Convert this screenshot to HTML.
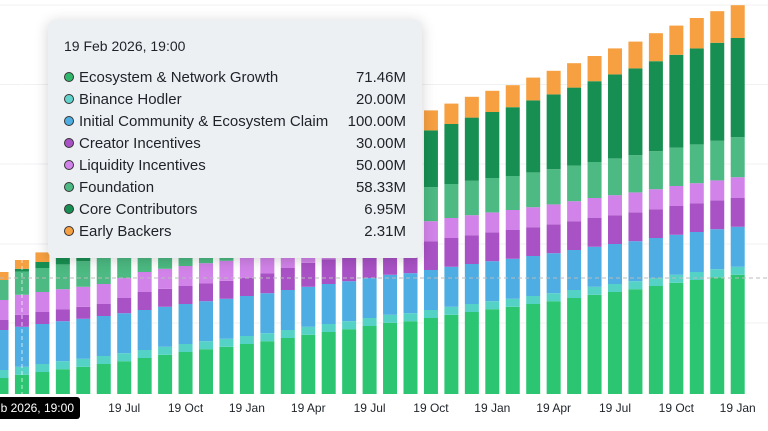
<!DOCTYPE html>
<html><head><meta charset="utf-8"><style>
html,body{margin:0;padding:0;background:#fff;width:768px;height:431px;overflow:hidden;font-family:"Liberation Sans",sans-serif}
#tip{position:absolute;left:48px;top:20px;width:374px;height:238px;background:#edf0f3;border-radius:7px;box-shadow:0 2px 14px rgba(0,0,0,0.18);color:#1e2329}
#tip .t{position:absolute;left:16px;top:18px;font-size:14px}
.row{position:absolute;left:16px;width:342px;height:20px;font-size:15px;line-height:20px}
.row .d{display:inline-block;width:8px;height:8px;border-radius:50%;border:1.5px solid #333;margin-right:5px;vertical-align:0px}
.row .v{position:absolute;right:0;top:0}
</style></head><body>
<svg id="chart" width="768" height="431" style="position:absolute;left:0;top:0"></svg>
<div id="tip">
<div class="t">19 Feb 2026, 19:00</div>
</div>
<script>
const categories=["Jan26","Feb26","Mar26","Apr26","May26","Jun26","Jul26","Aug26","Sep26","Oct26","Nov26","Dec26","Jan27","Feb27","Mar27","Apr27","May27","Jun27","Jul27","Aug27","Sep27","Oct27","Nov27","Dec27","Jan28","Feb28","Mar28","Apr28","May28","Jun28","Jul28","Aug28","Sep28","Oct28","Nov28","Dec28","Jan29"];
const ecosystem=[40,48,55,62,68,75,82,90,98,105,112,118,125,132,140,148,155,162,170,178,182,190,198,205,212,218,225,232,240,248,255,262,270,278,285,292,298];
const binance=[20,20,20,20,20,20,20,20,20,20,20,20,20,20,20,20,20,20,20,20,20,20,20,20,20,20,20,20,20,20,20,20,20,20,20,20,20];
const community=[100,100,100,100,100,100,100,100,100,100,100,100,100,100,100,100,100,100,100,100,100,100,100,100,100,100,100,100,100,100,100,100,100,100,100,100,100];
const creator=[25,30,30,30,30,30,38,45,45,45,45,45,45,50,55,60,62,65,68,70,72,72,72,72,72,72,72,72,72,72,72,72,72,72,72,72,72];
const liquidity=[50,50,50,50,50,50,50,50,50,50,50,50,50,50,50,50,50,50,50,50,50,50,50,50,50,50,50,50,50,50,50,50,50,50,50,50,52];
const foundation=[50,58,60,62,64,66,68,70,71,72,73,74,75,76,77,78,79,80,81,82,83,85,85,86,86,85,87,88,89,90,92,93,95,96,97,99,100];
const core=[0,7,15,22,30,37,45,52,60,67,75,82,90,97,105,112,118,124,130,136,140,142,150,158,165,172,180,187,195,202,210,217,225,232,240,245,248];
const early=[20,22,24,26,27,28,29,30,31,32,33,34,35,36,37,38,39,40,42,44,46,50,51,52,53,55,57,59,61,63,65,67,70,73,76,79,82];
const seriesNames=["Ecosystem & Network Growth","Binance Hodler","Initial Community & Ecosystem Claim","Creator Incentives","Liquidity Incentives","Foundation","Core Contributors","Early Backers"];
const tooltipValues=["71.46M","20.00M","100.00M","30.00M","50.00M","58.33M","6.95M","2.31M"];
const tickLabels=["19 Jan","19 Apr","19 Jul","19 Oct","19 Jan","19 Apr","19 Jul","19 Oct","19 Jan","19 Apr","19 Jul","19 Oct","19 Jan"];
const series=[ecosystem,binance,community,creator,liquidity,foundation,core,early];
const colors=["#2cc672","#55d2c6","#4eaee3","#a952c6","#d283e9","#4cba82","#188f52","#f6a041"];
const dotColors=["#2fb86c","#62d3cc","#4eaee3","#a952c6","#d283e9","#4cba82","#188f52","#f6a041"];
const svg=document.getElementById('chart');
const NS='http://www.w3.org/2000/svg';
const base=394,pxPerM=0.4,x0=-5.5,step=20.45,bw=14;
const xPos=i=>x0+i*step;
const yScale=v=>base-v*pxPerM;
function mk(t,a){const e=document.createElementNS(NS,t);for(const k in a)e.setAttribute(k,a[k]);svg.appendChild(e);return e;}
[5,84.5,164,244,323].forEach(y=>{const l=mk('line',{x1:0,x2:768,y1:y,y2:y,stroke:'#f0f1f3','stroke-width':1});

});
categories.forEach((c,i)=>{let acc=0;series.forEach((s,k)=>{const y1=yScale(acc),y2=yScale(acc+s[i]);acc+=s[i];
const r=mk('rect',{x:xPos(i),y:y2,width:bw,height:Math.max(0,y1-y2),fill:colors[k]});

});});
const v=mk('line',{x1:22,x2:22,y1:0,y2:394,stroke:'#fff','stroke-width':1,'stroke-dasharray':'4 3',opacity:0.7});


const h=mk('line',{x1:0,x2:768,y1:278,y2:278,stroke:'#bbb','stroke-width':1,'stroke-dasharray':'4 3'});


tickLabels.forEach((t,j)=>{const i=j*3;const tx=mk('text',{x:xPos(i)+bw/2,y:412,'text-anchor':'middle','font-size':12,fill:'#1e2329','font-family':'Liberation Sans, sans-serif'});tx.textContent=t;

});
const tag=mk('rect',{x:-20,y:397,width:100,height:22,rx:3,fill:'#000'});


const tt=mk('text',{x:74,y:412,'text-anchor':'end','font-size':12,fill:'#fff','font-family':'Liberation Sans, sans-serif'});tt.textContent='19 Feb 2026, 19:00';


const tip=document.getElementById('tip');
seriesNames.forEach((n,k)=>{const r=document.createElement('div');r.className='row';r.style.top=(48+k*22)+'px';
r.innerHTML='<span class="d" style="background:'+dotColors[k]+'"></span>'+n+'<span class="v">'+tooltipValues[k]+'</span>';


tip.appendChild(r);});
</script>
</body></html>
